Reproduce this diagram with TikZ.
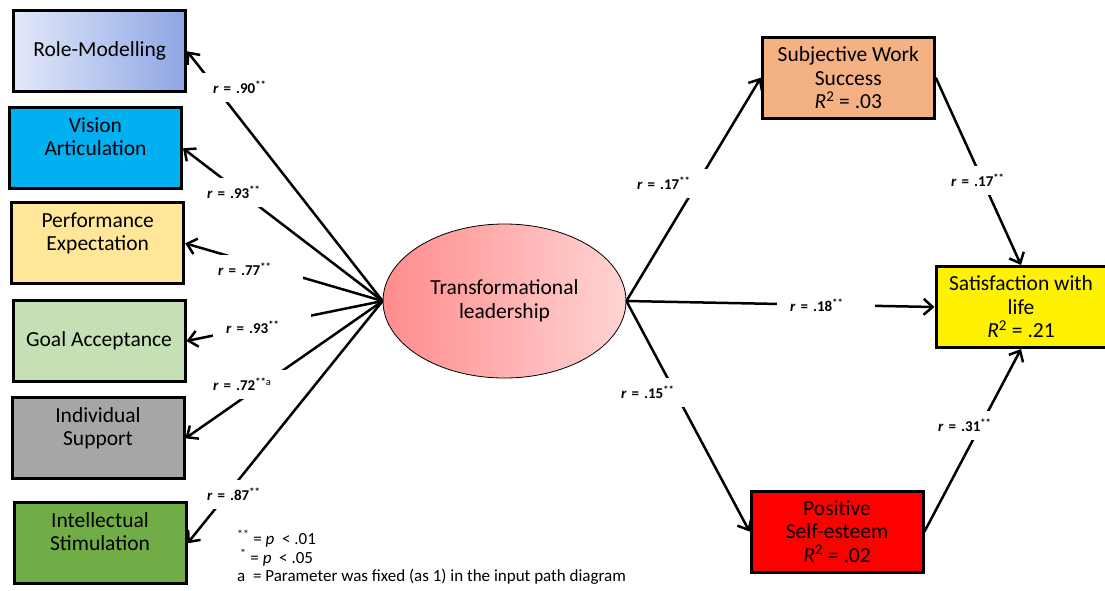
\documentclass[tikz,border=0pt]{standalone}
\usepackage{fontspec}
\setmainfont{Carlito}
\usetikzlibrary{arrows.meta,shapes.geometric}
\definecolor{rolecol}{HTML}{8EA6E4}
\definecolor{visioncol}{HTML}{00B0F0}
\definecolor{perfcol}{HTML}{FFE699}
\definecolor{goalcol}{HTML}{C5E0B4}
\definecolor{indivcol}{HTML}{A6A6A6}
\definecolor{intelcol}{HTML}{70AD47}
\definecolor{workcol}{HTML}{F4B183}
\tikzset{
  factor/.style={draw,line width=3pt,minimum width=172pt,minimum height=81pt,
    inner sep=2pt,align=center,font=\fontsize{21.5}{23}\selectfont},
  outcome/.style={factor,font=\fontsize{21.5}{23.5}\selectfont},
  link/.style={line width=2.5pt,-{Straight Barb[length=9pt,width=16pt]}},
  rlbl/.style={fill=white,anchor=west,inner xsep=13pt,inner ysep=0pt,minimum height=29pt,
    text width=72pt,align=left,font=\fontsize{15}{17}\selectfont\bfseries}
}
\begin{document}
\begin{tikzpicture}[x=1pt,y=-1pt]
  \useasboundingbox (0,0) rectangle (1105,590);
  % dimensions of transformational leadership
  \node (role) at (99.7,51.3) [factor,left color=rolecol!25,right color=rolecol]{Role-Modelling};
  \node (vision) at (95.5,148.3) [factor,fill=visioncol]{Vision\\Articulation\\\mbox{}};
  \node (perf) at (97.7,243.3) [factor,fill=perfcol]{Performance\\Expectation\\\mbox{}};
  \node (goal) at (99,341) [factor,fill=goalcol]{Goal Acceptance};
  \node (indiv) at (98,438.3) [factor,fill=indivcol]{Individual\\Support\\\mbox{}};
  \node (intel) at (100,543.3) [factor,fill=intelcol]{Intellectual\\Stimulation\\\mbox{}};
  \node (tl) at (504.5,301) [ellipse,draw,line width=0.8pt,minimum width=243pt,minimum height=154pt,
    inner sep=0pt,align=center,font=\fontsize{21.5}{23.5}\selectfont,
    left color=red!45,right color=red!17]{Transformational\\leadership};
  % outcomes
  \node (work) at (848.3,77.7) [outcome,fill=workcol]{Subjective Work\\Success\\\textit{R}\textsuperscript{2} = .03};
  \node (sat) at (1021,307) [outcome,fill=yellow,minimum width=170pt]{Satisfaction with\\life\\\textit{R}\textsuperscript{2} = .21};
  \node (self) at (837,531.5) [outcome,fill=red]{Positive\\Self-esteem\\\textit{R}\textsuperscript{2} = .02};

  \foreach \d in {role,vision,perf,goal,indiv,intel}
    \draw [link](tl.west)--(\d.east);
  \draw [link](tl.east)--(work.west);
  \draw [link](tl.east)--(sat.west);
  \draw [link](tl.east)--(self.west);
  \draw [link](work.east)--(sat.north);
  \draw [link](self.east)--(sat.south);

  % coefficients
  \node (l1) at (200,87) [rlbl]{\textit{r} = .90\textsuperscript{**}};
  \node (l2) at (194,192) [rlbl,text width=62pt]{\textit{r} = .93\textsuperscript{**}};
  \node (l3) at (205,269) [rlbl]{\textit{r} = .77\textsuperscript{**}};
  \node (l4) at (213,327) [rlbl]{\textit{r} = .93\textsuperscript{**}};
  \node (l5) at (200,384) [rlbl]{\textit{r} = .72\textsuperscript{**\mdseries a}};
  \node (l6) at (194,494) [rlbl]{\textit{r} = .87\textsuperscript{**}};
  \node (l7) at (624,183) [rlbl]{\textit{r} = .17\textsuperscript{**}};
  \node (l8) at (777,305) [rlbl]{\textit{r} = .18\textsuperscript{**}};
  \node (l9) at (608,392) [rlbl]{\textit{r} = .15\textsuperscript{**}};
  \node (l10) at (938,180) [rlbl]{\textit{r} = .17\textsuperscript{**}};
  \node (l11) at (925,425) [rlbl]{\textit{r} = .31\textsuperscript{**}};

  \node (notes) at (237,530) [anchor=north west,align=left,inner sep=0pt,font=\fontsize{17}{18.5}\selectfont]
    {\textsuperscript{**} = \textit{p}~~< .01\\
     \hspace{3pt}\textsuperscript{*} = \textit{p}~~< .05\\
     a~~= Parameter was fixed (as 1) in the input path diagram};
\end{tikzpicture}
\end{document}
